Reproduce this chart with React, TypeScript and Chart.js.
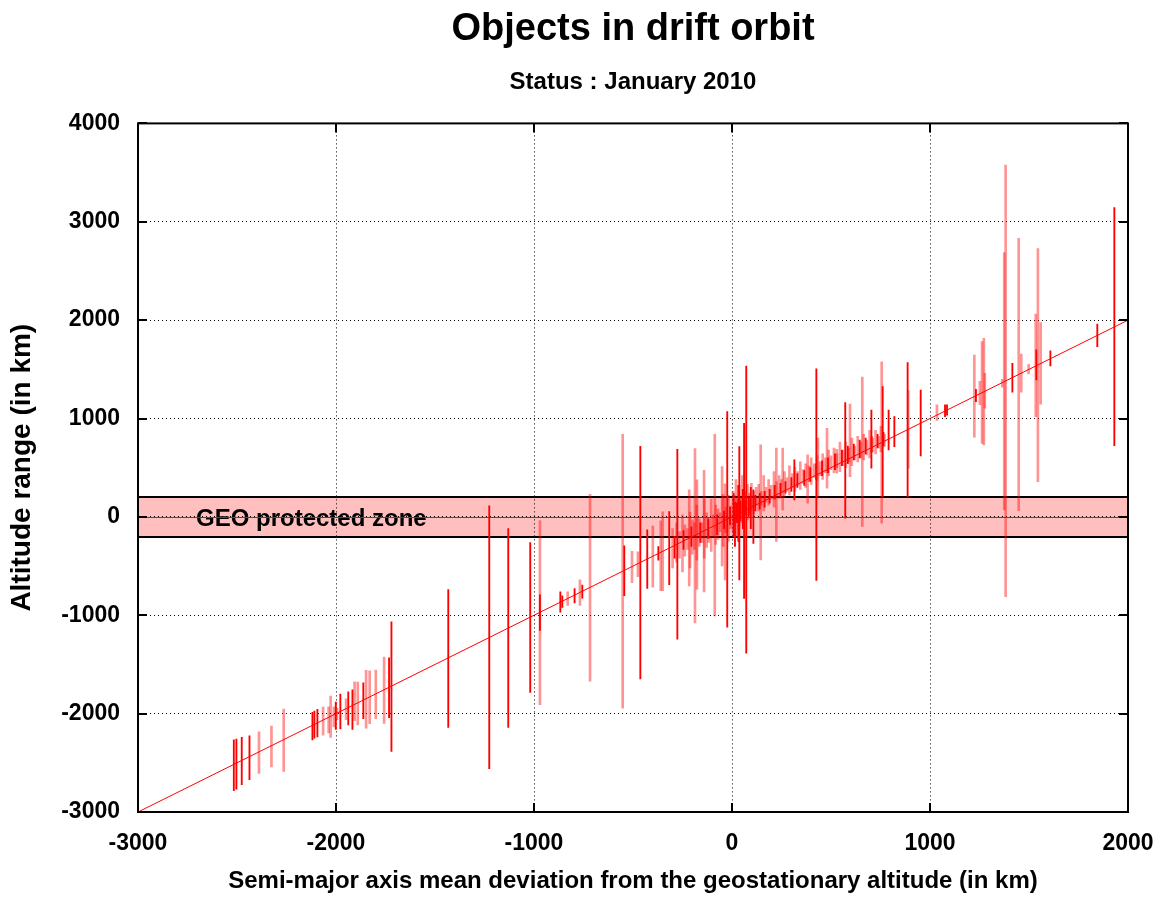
import React, { useEffect, useRef } from "react";
import { Chart, registerables } from "chart.js";

Chart.register(...registerables);

const titleText = "Objects in drift orbit";
const subtitleText = "Status : January 2010";
const xAxisTitle = "Semi-major axis mean deviation from the geostationary altitude (in km)";
const yAxisTitle = "Altitude range (in km)";
const zoneLabel = "GEO protected zone";

const xRange = [-3000, 2000];
const yRange = [-3000, 4000];
const tickStep = 1000;
const protectedZone = [-200, 200];

// reference line: altitude = semi-major axis deviation
const refLineX = [-3000, 2000];
const refLineY = [-3000, 2000];

// [semi-major axis deviation, min altitude, max altitude] – strong (opaque) objects
const strongRanges: [number, number, number][] = [
  [-2516, -2784, -2266], [-2503, -2767, -2259], [-2476, -2723, -2242], [-2437, -2672, -2225],
  [-2119, -2266, -1988], [-2109, -2250, -1975], [-2094, -2238, -1957], [-2001, -2160, -1882],
  [-1978, -2156, -1801], [-1938, -2116, -1778], [-1917, -2161, -1758], [-1862, -2052, -1686],
  [-1732, -2042, -1432], [-1720, -2385, -1067], [-1433, -2140, -740],
  [-1226, -2560, 112], [-1130, -2140, -119], [-1019, -1785, -261], [-970, -1155, -793],
  [-867, -968, -762], [-857, -921, -803], [-795, -874, -728], [-756, -826, -694],
  [-544, -800, -295], [-463, -1646, 718], [-428, -728, -132], [-372, -440, -302],
  [-317, -688, 54], [-276, -1243, 688], [-24, -1120, 1070], [37, -640, 714],
  [61, -830, 952], [72, -1385, 1534], [108, -270, 274], [315, 173, 579],
  [426, -647, 1504], [572, -13, 1161], [704, 495, 1087], [761, 207, 1324],
  [791, 681, 1087], [820, 714, 1019], [887, 203, 1568], [953, 620, 1290],
  [1076, 1020, 1138], [1086, 1035, 1140], [1232, 1171, 1297], [1416, 1267, 1562],
  [1537, 1392, 1697], [1608, 1534, 1687], [1845, 1730, 1961], [1931, 725, 3143],
  [-290, -420, -200], [-245, -330, -140], [-205, -300, -100], [-160, -260, -60],
  [-120, -220, -20], [-75, -180, 20], [-40, -120, 60], [-10, -80, 100],
  [8, -200, 240], [15, -300, 150], [25, -60, 140], [32, -250, 320],
  [42, -40, 160], [55, -120, 280], [65, 20, 160], [85, 0, 200],
  [95, -120, 300], [118, 60, 220], [140, 80, 240], [165, 100, 260],
  [190, 140, 280], [215, 180, 320], [245, 200, 340], [270, 240, 360],
  [300, 260, 400], [330, 300, 440], [365, 320, 470], [395, 360, 500],
  [425, 380, 540], [455, 420, 570], [485, 450, 600], [520, 480, 640],
  [555, 520, 680], [585, 540, 720], [615, 580, 740], [645, 600, 780],
  [675, 640, 800], [705, 660, 820], [735, 700, 840], [765, 720, 860],
];

// [semi-major axis deviation, min altitude, max altitude] – faint objects
const faintRanges: [number, number, number][] = [
  [-2389, -2608, -2184], [-2326, -2543, -2127], [-2264, -2588, -1954], [-2065, -2219, -1934],
  [-2037, -2195, -1931], [-2027, -2242, -1822], [-2011, -2134, -1930], [-1995, -2062, -1945],
  [-1949, -2062, -1849], [-1906, -2072, -1676], [-1890, -2116, -1680], [-1848, -2147, -1561],
  [-1830, -2103, -1564], [-1799, -2052, -1558], [-1757, -2100, -1425],
  [-970, -1910, -38], [-830, -901, -762], [-768, -901, -640], [-717, -1669, 230],
  [-552, -1944, 840], [-505, -668, -349], [-475, -607, -356], [-400, -714, -94],
  [-360, -749, -41], [-350, -749, 51], [-216, -701, 274], [-187, -1077, 694],
  [-177, -735, 376], [-141, -762, 474], [-87, -1007, 840], [-50, -498, 511],
  [-35, -640, 335], [145, -437, 732], [224, -250, 699], [256, 71, 699],
  [382, 139, 630], [434, 206, 800], [480, 292, 901], [529, 444, 688],
  [596, 409, 1148], [658, -98, 1420], [756, -64, 1575], [890, 495, 1283],
  [1035, 980, 1140], [1224, 810, 1646], [1252, 1142, 1378], [1263, 748, 1781],
  [1272, 732, 1816], [1277, 1104, 1460], [1365, 1318, 1399], [1375, 71, 2686],
  [1382, -810, 3576], [1448, 64, 2832], [1461, 1267, 1656], [1498, 1453, 1551],
  [1534, 1019, 2062], [1545, 359, 2728], [1559, 1145, 1974],
  [-300, -520, -120], [-280, -460, -60], [-265, -420, -150], [-250, -560, 20],
  [-238, -400, -80], [-225, -330, -120], [-212, -520, 50], [-200, -380, -30],
  [-190, -330, -60], [-178, -440, 120], [-165, -300, -20], [-152, -260, -60],
  [-140, -420, 180], [-128, -310, 40], [-118, -260, -20], [-105, -350, 180],
  [-95, -200, 20], [-82, -280, 120], [-70, -230, 80], [-60, -150, 40],
  [-45, -300, 230], [-30, -160, 100], [-18, -250, 220], [-8, -120, 110],
  [5, -150, 260], [12, -60, 220], [20, -200, 380], [28, -40, 180],
  [36, -100, 320], [45, 0, 200], [52, -60, 420], [60, -120, 260],
  [68, 20, 260], [78, -30, 330], [88, 40, 240], [98, 60, 340],
  [110, 30, 260], [122, 120, 300], [135, 60, 330], [148, 120, 260],
  [160, 60, 420], [172, 150, 300], [185, 120, 380], [198, 180, 320],
  [212, 100, 460], [225, 200, 360], [238, 190, 420], [250, 240, 380],
  [265, 200, 460], [278, 260, 400], [290, 220, 520], [305, 300, 440],
  [318, 260, 500], [332, 320, 460], [345, 280, 560], [360, 340, 480],
  [372, 300, 540], [388, 360, 520], [400, 330, 600], [415, 400, 540],
  [430, 370, 620], [445, 420, 560], [458, 380, 640], [472, 450, 600],
  [488, 420, 680], [500, 480, 620], [515, 450, 700], [530, 500, 640],
  [545, 460, 760], [560, 520, 680], [575, 500, 760], [590, 560, 700],
  [605, 520, 800], [620, 580, 720], [635, 560, 820], [650, 600, 760],
  [665, 580, 840], [680, 630, 780], [695, 600, 880], [710, 660, 800],
  [725, 640, 880], [740, 700, 820], [752, 660, 920], [770, 720, 840],
];

const FONT = '"Liberation Sans", Arial, Helvetica, sans-serif';

const bandPlugin = {
  id: "geoBand",
  beforeDraw(chart: any) {
    const { ctx, chartArea, scales } = chart;
    const y = scales.y;
    const yTop = y.getPixelForValue(protectedZone[1]);
    const yBot = y.getPixelForValue(protectedZone[0]);
    ctx.save();
    ctx.fillStyle = "#ffbfbf";
    ctx.fillRect(chartArea.left, yTop, chartArea.right - chartArea.left, yBot - yTop);
    ctx.restore();
  },
  beforeDatasetsDraw(chart: any) {
    const { ctx, chartArea, scales } = chart;
    const y = scales.y;
    const yTop = Math.round(y.getPixelForValue(protectedZone[1]));
    const yBot = Math.round(y.getPixelForValue(protectedZone[0]));
    const y0 = Math.round(y.getPixelForValue(0));
    ctx.save();
    ctx.fillStyle = "#000";
    ctx.font = `bold 24px ${FONT}`;
    ctx.textBaseline = "middle";
    ctx.textAlign = "left";
    ctx.fillText(zoneLabel, chartArea.left + 58, y0 + 2);
    ctx.strokeStyle = "#ff0000";
    ctx.lineWidth = 1;
    ctx.beginPath();
    ctx.moveTo(chartArea.left, y0 + 0.5);
    ctx.lineTo(chartArea.right, y0 + 0.5);
    ctx.stroke();
    ctx.strokeStyle = "#000";
    ctx.lineWidth = 2;
    ctx.beginPath();
    ctx.moveTo(chartArea.left, yTop);
    ctx.lineTo(chartArea.right, yTop);
    ctx.moveTo(chartArea.left, yBot);
    ctx.lineTo(chartArea.right, yBot);
    ctx.stroke();
    ctx.restore();
  },
};

const framePlugin = {
  id: "frame",
  afterDraw(chart: any) {
    const { ctx, chartArea, scales } = chart;
    const { left, right, top, bottom } = chartArea;
    const len = 9;
    ctx.save();
    ctx.strokeStyle = "#000";
    ctx.lineWidth = 2;
    ctx.beginPath();
    scales.x.ticks.forEach((t: any) => {
      const px = Math.round(scales.x.getPixelForValue(t.value));
      ctx.moveTo(px, bottom);
      ctx.lineTo(px, bottom - len);
      ctx.moveTo(px, top);
      ctx.lineTo(px, top + len);
    });
    scales.y.ticks.forEach((t: any) => {
      const py = Math.round(scales.y.getPixelForValue(t.value));
      ctx.moveTo(left, py);
      ctx.lineTo(left + len, py);
      ctx.moveTo(right, py);
      ctx.lineTo(right - len, py);
    });
    ctx.stroke();
    ctx.strokeRect(left, top, right - left, bottom - top);
    ctx.restore();
  },
};

export default function App() {
  const ref = useRef<HTMLCanvasElement | null>(null);

  useEffect(() => {
    if (!ref.current) return;
    const chart = new Chart(ref.current, {
      type: "bar",
      data: {
        datasets: [
          {
            type: "bar",
            label: "faint",
            data: faintRanges.map(([x, lo, hi]) => ({ x, y: [lo, hi] })) as any,
            backgroundColor: "rgba(255,0,0,0.42)",
            barThickness: 2,
            grouped: false,
            order: 3,
          },
          {
            type: "bar",
            label: "strong",
            data: strongRanges.map(([x, lo, hi]) => ({ x, y: [lo, hi] })) as any,
            backgroundColor: "#ff0000",
            barThickness: 1.2,
            grouped: false,
            order: 2,
          },
          {
            type: "line",
            label: "reference",
            data: refLineX.map((x, i) => ({ x, y: refLineY[i] })) as any,
            borderColor: "#ff0000",
            borderWidth: 1,
            pointRadius: 0,
            fill: false,
            order: 1,
          },
        ] as any,
      },
      options: {
        animation: false,
        responsive: false,
        devicePixelRatio: 1,
        layout: { padding: { left: 0, right: 35, top: 0, bottom: 0 } },
        plugins: {
          legend: { display: false },
          tooltip: { enabled: false },
          title: {
            display: true,
            fullSize: false,
            text: titleText,
            color: "#000",
            font: { family: FONT, size: 38, weight: "bold" },
            padding: { top: 7, bottom: 0 },
          },
          subtitle: {
            display: true,
            fullSize: false,
            text: subtitleText,
            color: "#000",
            font: { family: FONT, size: 24, weight: "bold" },
            padding: { top: 15, bottom: 27 },
          },
        },
        scales: {
          x: {
            type: "linear",
            min: xRange[0],
            max: xRange[1],
            offset: false,
            afterFit: (s: any) => {
              s.height = 85;
              s.paddingLeft = 0;
              s.paddingRight = 0;
            },
            ticks: {
              stepSize: tickStep,
              color: "#000",
              padding: 18,
              font: { family: FONT, size: 23, weight: "bold" },
              callback: (v: any) => String(v),
            },
            grid: { color: "#000", lineWidth: 1, drawTicks: false, offset: false },
            border: { display: false, dash: [1, 3] },
            title: {
              display: true,
              text: xAxisTitle,
              color: "#000",
              font: { family: FONT, size: 24, weight: "bold" },
              padding: { top: 0, bottom: 1 },
            },
          },
          y: {
            type: "linear",
            min: yRange[0],
            max: yRange[1],
            afterFit: (s: any) => {
              s.width = 138;
              s.paddingTop = 0;
              s.paddingBottom = 0;
            },
            ticks: {
              stepSize: tickStep,
              color: "#000",
              padding: 18,
              font: { family: FONT, size: 23, weight: "bold" },
              callback: (v: any) => String(v),
            },
            grid: { color: "#000", lineWidth: 1, drawTicks: false, offset: false },
            border: { display: false, dash: [1, 3] },
            title: {
              display: true,
              text: yAxisTitle,
              color: "#000",
              font: { family: FONT, size: 28, weight: "bold" },
              padding: { top: 5, bottom: 0 },
            },
          },
        },
      } as any,
      plugins: [bandPlugin, framePlugin],
    });
    return () => chart.destroy();
  }, []);

  return (
    <div style={{ position: "fixed", left: 0, top: 0, width: 1163, height: 897, background: "#fff" }}>
      <canvas ref={ref} width={1163} height={897} style={{ display: "block" }} />
    </div>
  );
}
